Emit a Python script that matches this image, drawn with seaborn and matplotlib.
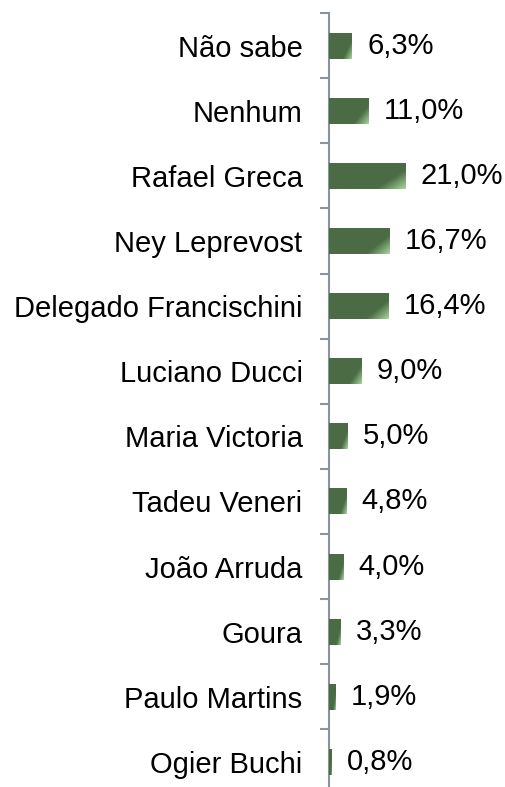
import numpy as np
import pandas as pd
import seaborn as sns
import matplotlib.pyplot as plt
from matplotlib.colors import LinearSegmentedColormap

# Candidate poll results
candidates = ["Não sabe", "Nenhum", "Rafael Greca", "Ney Leprevost",
              "Delegado Francischini", "Luciano Ducci", "Maria Victoria",
              "Tadeu Veneri", "João Arruda", "Goura", "Paulo Martins",
              "Ogier Buchi"]
percent = [6.3, 11.0, 21.0, 16.7, 16.4, 9.0, 5.0, 4.8, 4.0, 3.3, 1.9, 0.8]

df = pd.DataFrame({"candidato": candidates, "pct": percent})

sns.set_style("white")
plt.rcParams['font.family'] = ['Liberation Sans', 'DejaVu Sans']

fig = plt.figure(figsize=(5.06, 7.87), dpi=100)
ax = fig.add_axes([329 / 506, -7.5 / 787, 1 - 329 / 506, (787 - 13 + 7.5) / 787])

sns.barplot(data=df, x="pct", y="candidato", orient="h", color="#4b6b45",
            width=0.4, ax=ax, saturation=1)

# gradient fill clipped to each bar
cmap = LinearSegmentedColormap.from_list("g", ["#4b6b45", "#4b6b45", "#a6d49c"])
gx, gy = np.meshgrid(np.linspace(0, 1, 60), np.linspace(0, 1, 30))
grad = np.clip((gx * 0.65 + gy * 0.35 - 0.5) / 0.5, 0, 1)
for p in ax.patches:
    x0, y0 = p.get_x(), p.get_y()
    w, h = p.get_width(), p.get_height()
    im = ax.imshow(grad, cmap=cmap, vmin=0, vmax=1, aspect="auto",
                   extent=[x0, x0 + w, y0 + h, y0], origin="upper",
                   interpolation="bilinear", zorder=3)
    im.set_clip_path(p)
    p.set_edgecolor("none")

ax.set_xlim(0, (506 - 329) / 3.62)
ax.set_ylim(len(candidates) - 0.5, -0.5)

labels = [f"{v:.1f}%".replace(".", ",") for v in percent]
ax.bar_label(ax.containers[0], labels=labels, padding=11, fontsize=21,
             color="black")

ax.set_xlabel("")
ax.set_ylabel("")
ax.set_xticks([])
ax.tick_params(axis="y", which="major", length=0, labelsize=21, pad=19,
               labelcolor="black")
ax.set_yticks(np.arange(-0.5, len(candidates), 1), minor=True)
ax.tick_params(axis="y", which="minor", left=True, length=6.5, width=1.5,
               color="#8b949e")

for s in ["top", "right", "bottom"]:
    ax.spines[s].set_visible(False)
ax.spines["left"].set_color("#8b949e")
ax.spines["left"].set_linewidth(1.5)

fig.savefig("out.png", dpi=100)
